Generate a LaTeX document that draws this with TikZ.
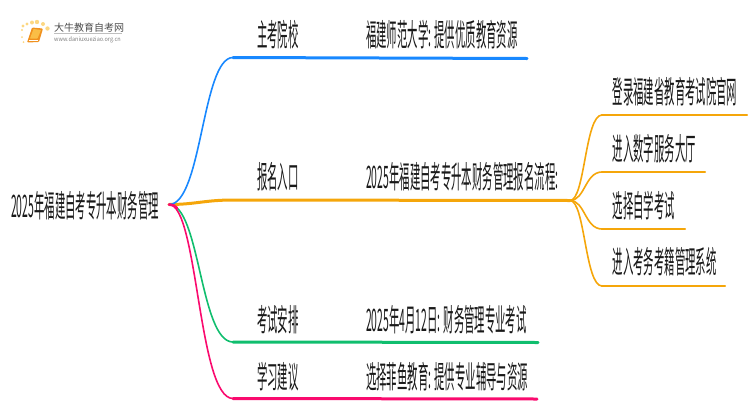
\documentclass[tikz,border=0pt]{standalone}
\usepackage{fontspec}
\usepackage{graphicx}
\setmainfont{Noto Sans CJK SC}
\usetikzlibrary{positioning}
\definecolor{blueline}{RGB}{24,136,255}
\definecolor{orangeline}{RGB}{245,166,10}
\definecolor{greenline}{RGB}{16,190,110}
\definecolor{pinkline}{RGB}{250,10,110}
\definecolor{bookorange}{RGB}{240,145,30}
\definecolor{booklight}{RGB}{250,190,70}
\definecolor{dotyellow}{RGB}{252,215,130}
\newcommand{\narrow}[1]{\scalebox{0.335}[1]{#1}}
\tikzset{
  lbl/.style={anchor=base west,inner sep=0pt,font=\fontsize{31}{31}\selectfont,text=black!90},
  curveline/.style={line width=1.6pt},
  stem/.style={line width=3pt,line cap=round},
}
\begin{document}
\begin{tikzpicture}[x=1pt,y=-1pt]
\useasboundingbox (0,0) rectangle (750,410);
% logo
\fill[dotyellow] (47.5,28.5) circle (2.2) (23,26) circle (1.6) (27,24) circle (1.6) (32,22.5) circle (2) (37,22) circle (2.2) (43,24) circle (2) (22,30) circle (1.2) (22,37) circle (1) (23.5,42) circle (1);
\fill[bookorange,rounded corners=1pt] (32,27.5) -- (43,28.5) -- (39,42) -- (27,42.5) -- cycle;
\fill[booklight,rounded corners=.5pt] (33.5,29) -- (41,30) -- (37.5,38.5) -- (30,38.5) -- cycle;
\draw[white,line width=.5pt] (28.5,40) -- (38,40);
\node[anchor=base west,inner sep=0pt,font=\fontsize{10}{10}\selectfont,text=black!70] (logoname) at (54,31) {大牛教育自考网};
\node[anchor=base west,inner sep=0pt,font=\fontsize{6}{6}\selectfont,text=black!50] (logourl) at (54,41) {\scalebox{.92}[1]{www.daniuxueziao.org.cn}};
\draw[black!25,line width=.4pt] (54,33.5) -- (122,33.5);
% root
\node[lbl] (root) at (11,217.5) {\narrow{2025年福建自考专升本财务管理}};
\coordinate (hub) at (169,204.5);
\coordinate (subhub) at (570,200.5);
% first level
\node[lbl] (school) at (257,46.5) {\narrow{主考院校}};
\node[lbl] (entry) at (257,188) {\narrow{报名入口}};
\node[lbl] (exam) at (257,331) {\narrow{考试安排}};
\node[lbl] (study) at (257,388) {\narrow{学习建议}};
\node[lbl] (schooltxt) at (366,46.5) {\narrow{福建师范大学: 提供优质教育资源}};
\node[lbl] (entrytxt) at (366,188) {\narrow{2025年福建自考专升本财务管理报名流程:}};
\node[lbl] (examtxt) at (366,331) {\narrow{2025年4月12日: 财务管理专业考试}};
\node[lbl] (studytxt) at (366,388) {\narrow{选择菲鱼教育: 提供专业辅导与资源}};
% second level
\node[lbl] (login) at (612.5,103.5) {\narrow{登录福建省教育考试院官网}};
\node[lbl] (hall) at (612.5,160) {\narrow{进入数字服务大厅}};
\node[lbl] (self) at (612.5,217.5) {\narrow{选择自学考试}};
\node[lbl] (system) at (612.5,273.5) {\narrow{进入考务考籍管理系统}};
% line ends
\coordinate (b1) at (233,57.5); \coordinate (e1) at (527,58.5);
\coordinate (b2) at (233,200);
\coordinate (b3) at (233,342); \coordinate (e3) at (538,342.5);
\coordinate (b4) at (233,398.5); \coordinate (e4) at (537,399);
\coordinate (s1) at (602,115); \coordinate (t1) at (747,115);
\coordinate (s2) at (602,172); \coordinate (t2) at (705,172);
\coordinate (s3) at (602,229); \coordinate (t3) at (685,229);
\coordinate (s4) at (602,286); \coordinate (t4) at (725,286);
% orange
\draw[orangeline,stem] (hub) .. controls (195,204.5) and (205,200) .. (b2) -- (subhub);
\draw[orangeline,curveline] (subhub) .. controls (585,200.5) and (585,115) .. (s1);
\draw[orangeline,curveline] (subhub) .. controls (585,200.5) and (585,172) .. (s2);
\draw[orangeline,curveline] (subhub) .. controls (585,200.5) and (585,229) .. (s3);
\draw[orangeline,curveline] (subhub) .. controls (585,200.5) and (585,286) .. (s4);
\foreach \s/\t in {s1/t1,s2/t2,s3/t3,s4/t4}
  \draw[orangeline,line width=2.4pt,line cap=round] (\s) -- (\t);
% blue
\draw[blueline,curveline] (hub) .. controls (202,204.5) and (202,57.5) .. (b1);
\draw[blueline,stem] (b1) -- (e1);
% green and pink
\draw[greenline,curveline] (hub) .. controls (200,204.5) and (200,342) .. (b3);
\draw[greenline,stem] (b3) -- (e3);
\draw[pinkline,curveline] (hub) .. controls (198,204.5) and (198,398.5) .. (b4);
\draw[pinkline,stem] (b4) -- (e4);
\draw[pinkline,line width=2.6pt,line cap=round] (hub) .. controls (172,204.5) and (175,205.5) .. (177,208);
\end{tikzpicture}
\end{document}
